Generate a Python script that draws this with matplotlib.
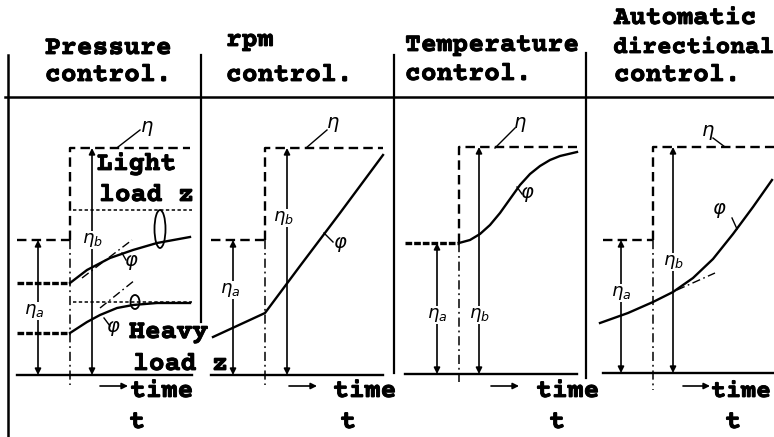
import matplotlib
matplotlib.use("Agg")
import matplotlib.pyplot as plt
from matplotlib.patches import Ellipse
import matplotlib.patheffects as pe

# ---------------- data (t = time after step, v = level above baseline) -------------
titles = ["Pressure\ncontrol.", "rpm\ncontrol.", "Temperature\ncontrol.",
          "Automatic\ndirectional\ncontrol."]

# Pressure control
p1_eta_a = 135
p1_eta_b = 227
p1_light_steady = 165
p1_heavy_steady = 73
p1_light_t = [-53, 0, 17, 40, 63, 87, 120]
p1_light_v = [92, 92, 105, 117, 125, 132, 138]
p1_heavy_t = [-53, 0, 17, 30, 47, 63, 87, 120]
p1_heavy_v = [42, 42, 53, 60, 67, 70, 72, 72]
p1_tan_light_t = [12, 62]
p1_tan_light_v = [97, 135]
p1_tan_heavy_t = [30, 65]
p1_tan_heavy_v = [67, 95]

# rpm control
p2_eta_a = 135
p2_eta_b = 227
p2_t = [-52, 0, 35, 75, 118]
p2_v = [38, 62, 109, 162, 220]

# Temperature control
p3_eta_a = 131
p3_eta_b = 227
p3_t = [-54, 0, 11, 21, 31, 41, 51, 61, 71, 81, 91, 101, 118]
p3_v = [131, 131, 134, 140, 149, 161, 175, 189, 200, 208, 214, 218, 222]

# Automatic directional control
p4_eta_a = 133
p4_eta_b = 226
p4_t = [-53, -25, 0, 20, 40, 60, 80, 100, 119]
p4_v = [50, 60, 71, 81, 95, 114, 139, 166, 193]
p4_tan_t = [24, 62]
p4_tan_v = [83, 100]

# ---------------- figure ------------------------------------------------------------
W, H = 774, 437
fig = plt.figure(figsize=(W / 100, H / 100), dpi=100)
fig.patch.set_facecolor("white")

frame = fig.add_axes([0, 0, 1, 1])
frame.set_xlim(0, W)
frame.set_ylim(H, 0)
frame.axis("off")

FONT = ["Courier Prime", "DejaVu Sans Mono"]
bold_fx = [pe.withStroke(linewidth=0.6, foreground="black")]
LW = 1.7

def ftext(x, y, s, size=19, ha="left", va="baseline"):
    frame.text(x, y, s, fontsize=size, family=FONT, weight="bold", ha=ha, va=va,
               color="black", path_effects=bold_fx)

# frame lines
frame.plot([5, W], [97, 97], color="k", lw=1.8)
frame.plot([8, 8], [55, H], color="k", lw=1.8)
frame.plot([201, 201], [55, 322], color="k", lw=1.6)
frame.plot([394, 394], [55, 373], color="k", lw=1.6)
frame.plot([586, 586], [53, 378], color="k", lw=1.6)

# titles
ftext(45, 54, "Pressure")
ftext(45, 81, "control.")
ftext(226, 46, "rpm")
ftext(226, 81, "control.")
ftext(405, 51, "Temperature")
ftext(405, 80, "control.")
ftext(614, 24, "Automatic")
ftext(613, 53, "directional", size=17.6)
ftext(614, 81, "control.")

# time labels
time_arrows = [(100, 128, 130, 137), (289, 317, 333, 348), (491, 519, 536, 557), (683, 710, 711, 733)]
for x0, x1, xt, xtt in time_arrows:
    frame.annotate("", xy=(x1, 386), xytext=(x0, 386),
                   arrowprops=dict(arrowstyle="-|>", lw=1.2, color="k", mutation_scale=9,
                                   shrinkA=0, shrinkB=0))
    ftext(xt, 397, "time", size=18 if xt > 700 else 19)
    ftext(xtt, 428, "t", ha="center")

# load labels
ftext(97, 170, "Light")
ftext(99, 201, "load z")
ftext(129, 338, "Heavy")
ftext(133, 370, "load z")


def panel_ax(step_x, base_y):
    ax = fig.add_axes([0, 0, 1, 1])
    ax.set_xlim(-step_x, W - step_x)
    ax.set_ylim(base_y - H, base_y)
    ax.axis("off")
    ax.patch.set_alpha(0)
    return ax

DASH = (0, (4, 2.2))
DASHDOT = (0, (6, 2.5, 1.2, 2.5))
DOT = (0, (2.2, 1.6))


def draw_common(ax, left, right, eta_a, eta_b, xa, xb, top_right, la_v, lb_v,
                la_dx=0, lb_dx=0, left_dash=True, low=-10):
    ax.plot([left, right], [0, 0], color="k", lw=LW)
    if left_dash:
        ax.plot([left, 0], [eta_a, eta_a], color="k", lw=LW, ls=DASH)
    ax.plot([0, 0, top_right], [eta_a, eta_b, eta_b], color="k", lw=LW, ls=DASH)
    ax.plot([0, 0], [eta_a, low], color="k", lw=1.1, ls=DASHDOT)
    for x, lev, lv, dx, lab in [(xa, eta_a, la_v, la_dx, r"$\eta_a$"),
                                (xb, eta_b, lb_v, lb_dx, r"$\eta_b$")]:
        ax.annotate("", xy=(x, lev), xytext=(x, 0),
                    arrowprops=dict(arrowstyle="<|-|>", lw=1.2, color="k",
                                    mutation_scale=9, shrinkA=0, shrinkB=0))
        ax.text(x + dx, lv, lab, fontsize=13, ha="center", va="center",
                bbox=dict(fc="white", ec="none", pad=0.3))


def eta_leader(ax, x0, y0, x1, y1, tx, ty):
    ax.plot([x0, x1], [y0, y1], color="k", lw=1.0)
    ax.text(tx, ty, r"$\eta$", fontsize=14, ha="center", va="center")


def phi_mark(ax, x0, y0, x1, y1, tx, ty):
    ax.plot([x0, x1], [y0, y1], color="k", lw=1.0)
    ax.text(tx, ty, r"$\varphi$", fontsize=14, ha="center", va="center")

# ---- panel 1: pressure control ----
ax1 = panel_ax(70, 375)
draw_common(ax1, -53, 122, p1_eta_a, p1_eta_b, -32, 22, 120, 64, 135, la_dx=-4, low=-10)
ax1.plot([3, 122], [p1_light_steady] * 2, color="k", lw=1.1, ls=DOT)
ax1.plot([3, 122], [p1_heavy_steady] * 2, color="k", lw=1.1, ls=DOT)
ax1.plot(p1_light_t[:2], p1_light_v[:2], color="k", lw=2.4, ls=(0, (2, 0.6)))
ax1.plot(p1_light_t[1:], p1_light_v[1:], color="k", lw=LW)
ax1.plot(p1_heavy_t[:2], p1_heavy_v[:2], color="k", lw=2.4, ls=(0, (2, 0.6)))
ax1.plot(p1_heavy_t[1:], p1_heavy_v[1:], color="k", lw=LW)
ax1.plot(p1_tan_light_t, p1_tan_light_v, color="k", lw=1.0, ls=DASHDOT)
ax1.plot(p1_tan_heavy_t, p1_tan_heavy_v, color="k", lw=1.0, ls=DASHDOT)
ax1.add_patch(Ellipse((90, 146), 11, 38, fill=False, lw=1.3, ec="k"))
ax1.add_patch(Ellipse((65, 73), 9, 14, fill=False, lw=1.3, ec="k"))
eta_leader(ax1, 48, 228, 70, 245, 77, 246)
phi_mark(ax1, 52, 122, 56, 115, 61, 112)
phi_mark(ax1, 34, 57, 40, 49, 43, 46)

# ---- panel 2: rpm control ----
ax2 = panel_ax(265, 375)
draw_common(ax2, -54, 118, p2_eta_a, p2_eta_b, -32, 22, 118, 85, 157, la_dx=-3, lb_dx=-4)
ax2.plot(p2_t, p2_v, color="k", lw=LW)
eta_leader(ax2, 41, 227, 62, 245, 68, 250)
phi_mark(ax2, 59, 142, 68, 133, 75, 130)

# ---- panel 3: temperature control ----
ax3 = panel_ax(459, 374)
draw_common(ax3, -54, 118, p3_eta_a, p3_eta_b, -22, 20, 118, 59, 59, left_dash=False, low=-8)
ax3.plot(p3_t[:2], p3_v[:2], color="k", lw=2.4, ls=(0, (2, 0.6)))
ax3.plot(p3_t[1:], p3_v[1:], color="k", lw=LW)
eta_leader(ax3, 36, 226, 56, 246, 61, 250)
phi_mark(ax3, 58, 187, 63, 180, 68, 179)

# ---- panel 4: automatic directional control ----
ax4 = panel_ax(653, 373)
draw_common(ax4, -50, 121, p4_eta_a, p4_eta_b, -32, 20, 121, 80, 111, low=-17)
ax4.plot(p4_t, p4_v, color="k", lw=LW)
ax4.plot(p4_tan_t, p4_tan_v, color="k", lw=1.0, ls=DASHDOT)
eta_leader(ax4, 60, 235, 72, 226, 55, 241)
phi_mark(ax4, 79, 155, 84, 144, 66, 163)

fig.savefig("out.png", dpi=100, facecolor="white")
